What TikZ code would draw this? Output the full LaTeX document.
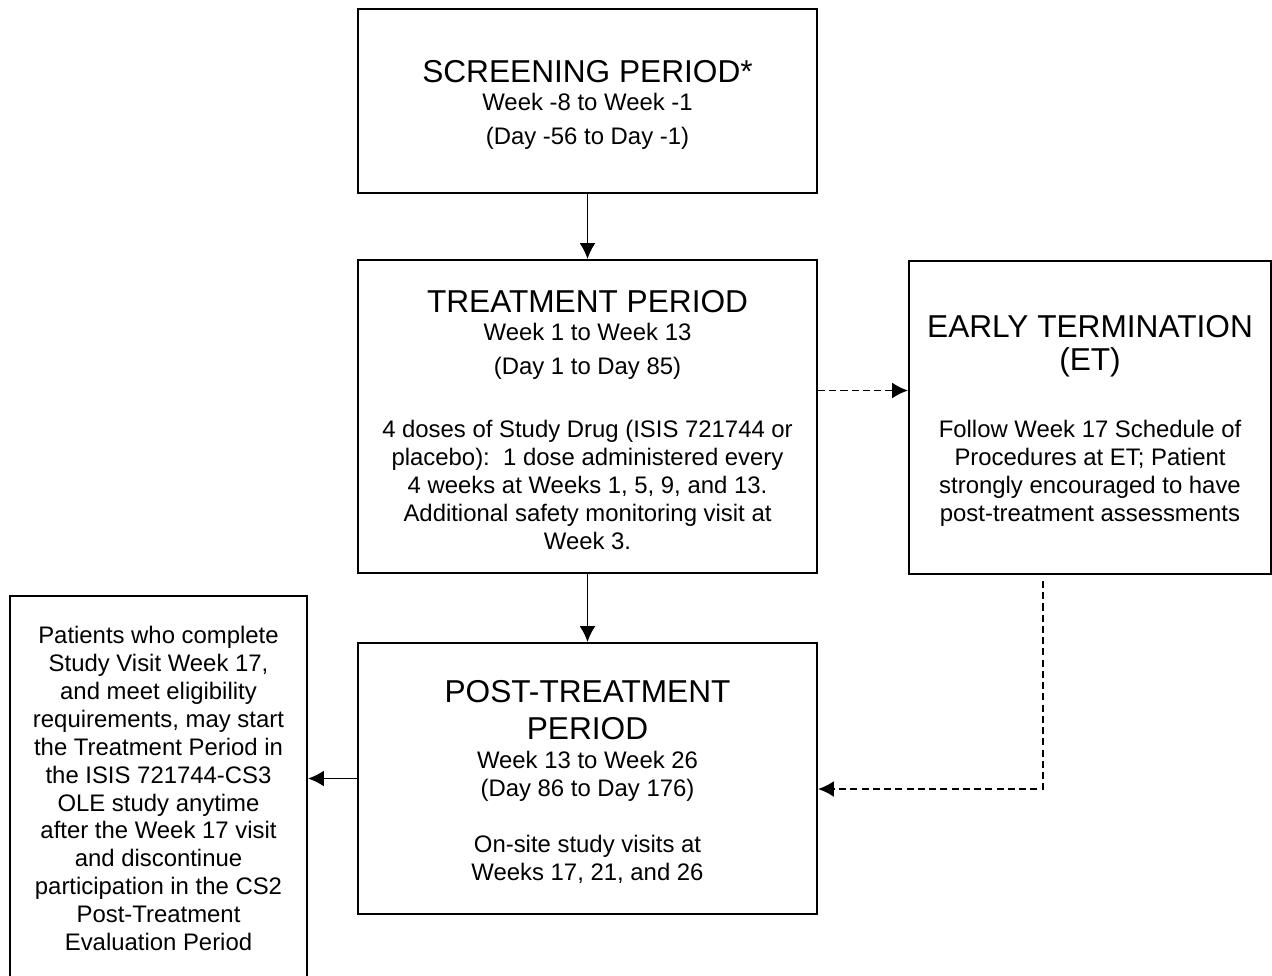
\documentclass[tikz,border=0pt]{standalone}
\usepackage{fontspec}
\setmainfont{Liberation Sans}
\usetikzlibrary{arrows.meta,positioning,calc}

\newcommand{\hdfont}{\fontsize{18}{20}\selectfont}
\newcommand{\topgap}{\rule{0pt}{16.6pt}}

\begin{document}
\begin{tikzpicture}[>={Latex[length=9pt,width=9pt]},
    box/.style={draw, line width=1.1pt, rectangle, inner sep=0pt, align=center,
      font=\fontsize{13.6}{15.9}\selectfont},
    link/.style={->, line width=1.1pt},
    dlink/.style={->, line width=1.1pt, dash pattern=on 4pt off 2.4pt}]
    \useasboundingbox (0,0) rectangle (25.44,-19.5);

    \node[box, minimum width=9.18cm, minimum height=3.68cm] (scr) at (11.75,-2.02)
      {{\hdfont\topgap SCREENING PERIOD*}\\ Week -8 to Week -1\\[3.4pt] (Day -56 to Day -1)};
    \node[box, minimum width=9.18cm, minimum height=6.26cm] (trt) at (11.75,-8.33)
      {{\hdfont\topgap TREATMENT PERIOD}\\ Week 1 to Week 13\\[3.4pt] (Day 1 to Day 85)\\[20.4pt]
       4 doses of Study Drug (ISIS 721744 or\\ placebo):~~1 dose administered every\\
       4 weeks at Weeks 1, 5, 9, and 13.\\ Additional safety monitoring visit at\\ Week 3.};
    \node[box, minimum width=7.24cm, minimum height=6.26cm] (et) at (21.8,-8.35)
      {{\hdfont\topgap EARLY TERMINATION}\\[2.8pt] {\hdfont (ET)}\\[22.1pt]
       Follow Week 17 Schedule of\\ Procedures at ET; Patient\\
       strongly encouraged to have\\ post-treatment assessments};
    \node[box, minimum width=9.18cm, minimum height=5.42cm] (post) at (11.75,-15.57)
      {{\hdfont\topgap POST-TREATMENT}\\[5.1pt] {\hdfont PERIOD}\\[0.5pt] Week 13 to Week 26\\
       (Day 86 to Day 176)\\[15.8pt] On-site study visits at\\ Weeks 17, 21, and 26};
    \node[box, minimum width=5.94cm, minimum height=7.7cm] (ole) at (3.17,-15.77)
      {Patients who complete\\ Study Visit Week 17,\\ and meet eligibility\\
       requirements, may start\\ the Treatment Period in\\ the ISIS 721744-CS3\\
       OLE study anytime\\ after the Week 17 visit\\ and discontinue\\
       participation in the CS2\\ Post-Treatment\\ Evaluation Period};

    \coordinate (etout) at ([xshift=-0.94cm,yshift=-0.12cm]et.south);
    \coordinate (postin) at ([yshift=-0.21cm]post.east);

    \draw[link] (scr) -- (trt);
    \draw[link] (trt) -- (post);
    \draw[dlink] ([yshift=0.52cm]trt.east) -- ([yshift=0.52cm]trt.east -| et.west);
    \draw[dlink] (etout) |- (postin);
    \draw[link] (post.west) -- (post.west -| ole.east);
\end{tikzpicture}
\end{document}
